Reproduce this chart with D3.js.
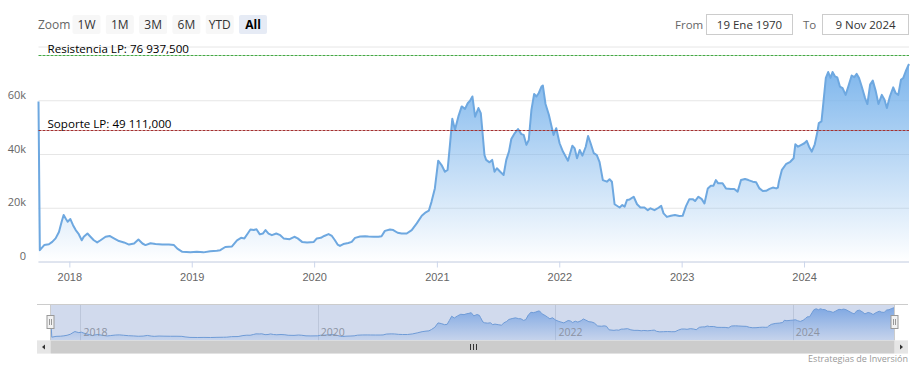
<!DOCTYPE html>
<html>
<head>
<meta charset="utf-8">
<script src="https://cdn.jsdelivr.net/npm/d3@7"></script>
<style>
  body { margin: 0; background: #fff; }
  svg { display: block; font-family: 'Open Sans', 'Noto Sans', sans-serif; }
</style>
</head>
<body>
<div class="chart"></div>
<script>
// price series (date, USD)
const dates = [
  '2017-10-01', '2017-10-05', '2017-10-18', '2017-11-01', '2017-11-11', '2017-11-21', '2017-12-01', '2017-12-09',
  '2017-12-15', '2017-12-21', '2017-12-27', '2018-01-04', '2018-01-12', '2018-01-20', '2018-01-28', '2018-02-07',
  '2018-02-13', '2018-02-24', '2018-03-05', '2018-03-15', '2018-03-25', '2018-04-04', '2018-04-19', '2018-05-01',
  '2018-05-14', '2018-05-29', '2018-06-13', '2018-06-28', '2018-07-13', '2018-07-26', '2018-08-07', '2018-08-16',
  '2018-08-31', '2018-09-15', '2018-10-05', '2018-10-25', '2018-11-09', '2018-11-19', '2018-12-04', '2018-12-28',
  '2019-01-16', '2019-02-05', '2019-02-25', '2019-03-17', '2019-03-27', '2019-04-11', '2019-05-01', '2019-05-16',
  '2019-05-28', '2019-06-07', '2019-06-17', '2019-06-25', '2019-07-05', '2019-07-13', '2019-07-23', '2019-08-01',
  '2019-08-09', '2019-08-18', '2019-08-28', '2019-09-10', '2019-09-22', '2019-10-02', '2019-10-20', '2019-11-03',
  '2019-11-13', '2019-11-26', '2019-12-11', '2019-12-31', '2020-01-09', '2020-01-21', '2020-01-31', '2020-02-13',
  '2020-02-23', '2020-03-03', '2020-03-11', '2020-03-18', '2020-03-28', '2020-04-12', '2020-04-22', '2020-05-02',
  '2020-05-17', '2020-06-01', '2020-06-11', '2020-06-26', '2020-07-11', '2020-07-20', '2020-07-30', '2020-08-14',
  '2020-08-24', '2020-09-06', '2020-09-18', '2020-10-03', '2020-10-18', '2020-11-02', '2020-11-17', '2020-11-29',
  '2020-12-08', '2020-12-16', '2020-12-26', '2021-01-05', '2021-01-15', '2021-01-25', '2021-02-02', '2021-02-09',
  '2021-02-16', '2021-02-24', '2021-03-06', '2021-03-16', '2021-03-26', '2021-04-03', '2021-04-10', '2021-04-17',
  '2021-04-25', '2021-05-05', '2021-05-12', '2021-05-16', '2021-05-23', '2021-05-28', '2021-06-07', '2021-06-15',
  '2021-06-22', '2021-06-29', '2021-07-09', '2021-07-19', '2021-07-27', '2021-08-04', '2021-08-11', '2021-08-21',
  '2021-08-31', '2021-09-10', '2021-09-17', '2021-09-25', '2021-10-02', '2021-10-10', '2021-10-18', '2021-10-25',
  '2021-11-01', '2021-11-09', '2021-11-13', '2021-11-21', '2021-12-01', '2021-12-08', '2021-12-15', '2021-12-23',
  '2022-01-02', '2022-01-12', '2022-01-27', '2022-02-09', '2022-02-16', '2022-02-23', '2022-03-03', '2022-03-11',
  '2022-03-21', '2022-03-28', '2022-04-04', '2022-04-14', '2022-04-23', '2022-05-01', '2022-05-11', '2022-05-23',
  '2022-05-31', '2022-06-07', '2022-06-15', '2022-06-30', '2022-07-08', '2022-07-15', '2022-07-22', '2022-07-30',
  '2022-08-11', '2022-08-21', '2022-08-31', '2022-09-12', '2022-09-22', '2022-09-30', '2022-10-12', '2022-10-24',
  '2022-11-01', '2022-11-08', '2022-11-18', '2022-11-30', '2022-12-12', '2022-12-25', '2023-01-04', '2023-01-14',
  '2023-01-24', '2023-02-03', '2023-02-10', '2023-02-20', '2023-03-02', '2023-03-10', '2023-03-20', '2023-03-29',
  '2023-04-06', '2023-04-13', '2023-04-20', '2023-05-03', '2023-05-13', '2023-05-28', '2023-06-07', '2023-06-17',
  '2023-06-27', '2023-07-09', '2023-07-19', '2023-08-01', '2023-08-11', '2023-08-21', '2023-08-31', '2023-09-10',
  '2023-09-20', '2023-09-30', '2023-10-10', '2023-10-15', '2023-10-18', '2023-10-27', '2023-11-08', '2023-11-21',
  '2023-12-01', '2023-12-06', '2023-12-14', '2023-12-24', '2024-01-02', '2024-01-09', '2024-01-16', '2024-01-24',
  '2024-02-02', '2024-02-09', '2024-02-14', '2024-02-22', '2024-02-27', '2024-03-06', '2024-03-13', '2024-03-20',
  '2024-03-26', '2024-04-02', '2024-04-09', '2024-04-17', '2024-04-25', '2024-05-04', '2024-05-12', '2024-05-22',
  '2024-05-30', '2024-06-06', '2024-06-13', '2024-06-21', '2024-07-01', '2024-07-08', '2024-07-16', '2024-07-24',
  '2024-08-02', '2024-08-10', '2024-08-20', '2024-08-28', '2024-09-04', '2024-09-13', '2024-09-23', '2024-09-30',
  '2024-10-08', '2024-10-16', '2024-10-23', '2024-10-30', '2024-11-09'
]
const prices = [
  59500, 4200, 6100, 6400, 7300, 8600, 11000, 14800,
  17300, 16000, 14800, 15800, 13500, 11700, 10400, 7900,
  9200, 10400, 9200, 7900, 7100, 7900, 9200, 9500,
  8600, 7600, 7100, 6300, 6700, 8200, 6700, 6100,
  6800, 6500, 6300, 6300, 6100, 4800, 3600, 3400,
  3600, 3400, 3800, 4000, 4200, 5400, 5600, 7900,
  8800, 8600, 10400, 11900, 11700, 12000, 10100, 10400,
  11700, 10400, 9800, 10400, 9800, 8600, 8300, 9200,
  8600, 7300, 7100, 7300, 8600, 8800, 9500, 10200,
  9500, 7900, 6300, 5800, 6500, 6900, 7300, 8800,
  9300, 9400, 9300, 9200, 9200, 9400, 11400, 11900,
  11700, 10700, 10400, 10400, 11700, 14200, 17000, 18300,
  18900, 22200, 27200, 37500, 35900, 33400, 34100, 43400,
  53100, 49000, 53900, 57700, 56800, 58900, 59800, 61400,
  53900, 57100, 55200, 49600, 39600, 37800, 36900, 37800,
  33400, 34700, 33400, 32200, 37800, 40900, 45600, 47700,
  49300, 47400, 47100, 43400, 45200, 56400, 62300, 61400,
  62700, 65100, 65500, 58600, 54600, 50800, 47100, 49600,
  44000, 40900, 37500, 43100, 42100, 38400, 41500, 39400,
  42700, 46700, 44200, 40300, 39600, 37100, 30300, 29700,
  30600, 29700, 21300, 20100, 21000, 20400, 22900, 23100,
  24100, 21300, 20100, 20100, 19100, 19800, 19100, 20000,
  20700, 17900, 16600, 17000, 17300, 16900, 17000, 20600,
  23200, 23200, 22500, 24100, 23200, 21600, 27200, 28200,
  28200, 30300, 29100, 29100, 27200, 27000, 27000, 26000,
  30300, 30700, 30300, 29700, 29500, 27200, 26200, 26300,
  27000, 27500, 27200, 27500, 29700, 34100, 36200, 37100,
  38400, 43600, 42700, 43400, 44000, 44900, 42700, 40900,
  43600, 47700, 51500, 52100, 58300, 68300, 70500, 68300,
  70500, 68900, 68500, 65100, 64500, 62000, 65100, 69200,
  68600, 69800, 68300, 65100, 60800, 58600, 65800, 67300,
  63300, 58600, 62000, 60200, 57100, 61400, 64800, 62700,
  62000, 67600, 68300, 70700, 73500
]
const yTicks = [0, 20000, 40000, 60000, 80000]
const navYears = [2018, 2020, 2022, 2024]
const zoomButtons = ['1W', '1M', '3M', '6M', 'YTD', 'All']
const resistance = 76937.5
const support = 49111
const fromText = '19 Ene 1970'
const toText = '9 Nov 2024'

const width = 922
const height = 373
let parseTime = d3.timeParse('%Y-%m-%d')
let data = dates.map((d, i) => ({ date: parseTime(d), value: prices[i] }))
let levelFormat = d3.formatLocale({ decimal: ',', thousands: ' ', grouping: [3], currency: ['', ''] }).format(',.3f')

const plot = { left: 38.5, right: 909, top: 46.5, bottom: 261.5 }
const nav = { left: 50.5, right: 894.5, top: 304.5, bottom: 340.5 }

const svg = d3
  .select('.chart')
  .append('svg')
  .attr('width', width)
  .attr('height', height)

const defs = svg.append('defs')
const grad = defs.append('linearGradient').attr('id', 'areaFill').attr('x1', 0).attr('y1', 0).attr('x2', 0).attr('y2', 1)
grad.append('stop').attr('offset', 0).attr('stop-color', '#7cb5ec').attr('stop-opacity', 1)
grad.append('stop').attr('offset', 1).attr('stop-color', '#7cb5ec').attr('stop-opacity', 0)

let x = d3.scaleTime().domain(d3.extent(data, (d) => d.date)).range([plot.left, plot.right])
let y = d3.scaleLinear().domain([0, 80000]).range([plot.bottom, plot.top])

// grid
svg
  .append('g')
  .attr('transform', `translate(${plot.left},0)`)
  .call(d3.axisLeft(y).tickValues(yTicks).tickSize(-(plot.right - plot.left)).tickFormat(''))
  .call((g) => g.select('.domain').remove())
  .call((g) => g.selectAll('line').attr('stroke', '#e6e6e6'))

// y labels (last one hidden like highstock)
svg
  .append('g')
  .selectAll('text')
  .data(yTicks.slice(0, -1))
  .enter()
  .append('text')
  .attr('x', 26)
  .attr('y', (d) => y(d) - 1.5)
  .attr('text-anchor', 'end')
  .style('font-size', '11px')
  .style('fill', '#666')
  .text((d) => (d === 0 ? '0' : d / 1000 + 'k'))

// area + line
let area = d3
  .area()
  .x((d) => x(d.date))
  .y0(plot.bottom)
  .y1((d) => y(d.value))
let line = d3
  .line()
  .x((d) => x(d.date))
  .y((d) => y(d.value))

svg.append('path').datum(data).attr('d', area).style('fill', 'url(#areaFill)')
svg
  .append('path')
  .datum(data)
  .attr('d', line)
  .style('fill', 'none')
  .style('stroke', '#6ea8e0')
  .style('stroke-width', 2)
  .style('stroke-linejoin', 'round')

// x axis
svg
  .append('g')
  .attr('transform', `translate(0,${plot.bottom})`)
  .call(d3.axisBottom(x).ticks(d3.timeYear.every(1)).tickFormat(d3.timeFormat('%Y')).tickSize(6).tickPadding(6))
  .call((g) => g.select('.domain').attr('stroke', '#ccd6eb').attr('d', `M${plot.left},0.5H${plot.right}`))
  .call((g) => g.selectAll('line').attr('stroke', '#ccd6eb'))
  .call((g) => g.selectAll('text').style('font-size', '11px').style('fill', '#666').style('font-family', null))

// resistance and support lines
let levels = [
  { value: resistance, name: 'Resistencia LP', color: '#45a845', dash: '3,1' },
  { value: support, name: 'Soporte LP', color: '#a33030', dash: '3,1' },
]
let levelG = svg.append('g').attr('class', 'levels')
levels.forEach((l) => {
  let yy = Math.round(y(l.value)) + 0.5
  levelG
    .append('path')
    .attr('d', `M${plot.left},${yy}H${plot.right}`)
    .attr('fill', 'none')
    .attr('stroke', l.color)
    .attr('stroke-width', 1)
    .attr('stroke-dasharray', l.dash)
  levelG
    .append('text')
    .attr('x', 47.5)
    .attr('y', yy - 2.5)
    .style('font-size', '11.6px')
    .style('fill', '#000')
    .text(`${l.name}: ${levelFormat(l.value)}`)
})

// range selector
svg
  .append('text')
  .attr('x', 38)
  .attr('y', 29)
  .style('font-size', '12px')
  .style('fill', '#666')
  .text('Zoom')

let btn = svg
  .append('g')
  .selectAll('g')
  .data(zoomButtons)
  .enter()
  .append('g')
  .attr('transform', (d, i) => `translate(${72.5 + i * 33.3},15)`)
btn
  .append('rect')
  .attr('width', 28)
  .attr('height', 19)
  .attr('rx', 2)
  .style('fill', (d) => (d === 'All' ? '#e6ebf5' : '#f7f7f7'))
btn
  .append('text')
  .attr('x', 14)
  .attr('y', 13.5)
  .attr('text-anchor', 'middle')
  .style('font-size', '12px')
  .style('font-weight', (d) => (d === 'All' ? 'bold' : 'normal'))
  .style('fill', (d) => (d === 'All' ? '#000' : '#333'))
  .text((d) => d)

let inputs = [
  { label: 'From', lx: 675, bx: 706.5, text: fromText },
  { label: 'To', lx: 803, bx: 822.5, text: toText },
]
inputs.forEach((inp) => {
  svg
    .append('text')
    .attr('x', inp.lx)
    .attr('y', 28.5)
    .style('font-size', '11.5px')
    .style('fill', '#666')
    .text(inp.label)
  svg
    .append('rect')
    .attr('x', inp.bx)
    .attr('y', 14.5)
    .attr('width', 86)
    .attr('height', 20)
    .style('fill', '#fff')
    .style('stroke', '#cccccc')
  svg
    .append('text')
    .attr('x', inp.bx + 43)
    .attr('y', 28.5)
    .attr('text-anchor', 'middle')
    .style('font-size', '11.5px')
    .style('fill', '#333')
    .text(inp.text)
})

// navigator
let nx = d3.scaleTime().domain(x.domain()).range([nav.left, nav.right])
let vmin = d3.min(prices)
let vmax = d3.max(prices.slice(1))
let pad = (vmax - vmin) * 0.1
let ny = d3.scaleLinear().domain([vmin - pad, vmax + pad]).range([nav.bottom, nav.top])

const navGrad = defs.append('linearGradient').attr('id', 'navFill').attr('x1', 0).attr('y1', 0).attr('x2', 0).attr('y2', 1)
navGrad.append('stop').attr('offset', 0).attr('stop-color', '#6a9be0').attr('stop-opacity', 0.8)
navGrad.append('stop').attr('offset', 1).attr('stop-color', '#6a9be0').attr('stop-opacity', 0.1)

defs
  .append('clipPath')
  .attr('id', 'navClip')
  .append('rect')
  .attr('x', nav.left)
  .attr('y', nav.top)
  .attr('width', nav.right - nav.left)
  .attr('height', nav.bottom - nav.top)

// mask for selected range (everything)
svg
  .append('rect')
  .attr('x', nav.left)
  .attr('y', nav.top)
  .attr('width', nav.right - nav.left)
  .attr('height', nav.bottom - nav.top)
  .style('fill', 'rgba(102,133,194,0.3)')

svg
  .append('g')
  .selectAll('line')
  .data(navYears)
  .enter()
  .append('line')
  .attr('x1', (d) => Math.round(nx(new Date(d, 0, 1))) + 0.5)
  .attr('x2', (d) => Math.round(nx(new Date(d, 0, 1))) + 0.5)
  .attr('y1', nav.top)
  .attr('y2', nav.bottom)
  .style('stroke', '#bcc6da')

let navG = svg.append('g').attr('clip-path', 'url(#navClip)')
navG
  .append('path')
  .datum(data)
  .attr(
    'd',
    d3
      .area()
      .x((d) => nx(d.date))
      .y0(nav.bottom)
      .y1((d) => ny(d.value))
  )
  .style('fill', 'url(#navFill)')
navG
  .append('path')
  .datum(data)
  .attr(
    'd',
    d3
      .line()
      .x((d) => nx(d.date))
      .y((d) => ny(d.value))
  )
  .style('fill', 'none')
  .style('stroke', '#6f9bd6')
  .style('stroke-width', 1)

svg
  .append('g')
  .selectAll('text')
  .data(navYears)
  .enter()
  .append('text')
  .attr('x', (d) => nx(new Date(d, 0, 1)) + 3)
  .attr('y', 336)
  .style('font-size', '10.5px')
  .style('fill', '#8c93a3')
  .text((d) => d)

// outline
svg
  .append('path')
  .attr('d', `M37,${nav.top}H908M${nav.left},${nav.top}V${nav.bottom}M${nav.right},${nav.top}V${nav.bottom}`)
  .style('fill', 'none')
  .style('stroke', '#cccccc')

// handles
;[nav.left, nav.right].forEach((hx) => {
  let h = svg.append('g').attr('transform', `translate(${Math.round(hx) - 4},315.5)`)
  h.append('rect').attr('width', 7).attr('height', 13).style('fill', '#f2f2f2').style('stroke', '#999')
  h.append('path').attr('d', 'M2.5,3.5V9.5M4.5,3.5V9.5').style('stroke', '#999')
})

// scrollbar
svg.append('rect').attr('x', 37).attr('y', 340.5).attr('width', 871).attr('height', 13).style('fill', '#f2f2f2')
svg
  .append('rect')
  .attr('x', nav.left)
  .attr('y', 340.5)
  .attr('width', nav.right - nav.left)
  .attr('height', 13)
  .style('fill', '#cccccc')
;[37, 895].forEach((bx, i) => {
  svg.append('rect').attr('x', bx).attr('y', 340.5).attr('width', 13).attr('height', 13).style('fill', '#e6e6e6')
  let cx = bx + 6.5
  let dir = i === 0 ? -1 : 1
  svg
    .append('path')
    .attr('d', `M${cx - dir * 1.5},344.5L${cx + dir * 1.5},347L${cx - dir * 1.5},349.5Z`)
    .style('fill', '#333')
})
let mid = Math.round((nav.left + nav.right) / 2)
svg
  .append('path')
  .attr('d', `M${mid - 2.5},344V350M${mid + 0.5},344V350M${mid + 3.5},344V350`)
  .style('stroke', '#333')

// credits
svg
  .append('text')
  .attr('x', 908)
  .attr('y', 362)
  .attr('text-anchor', 'end')
  .style('font-size', '9px')
  .style('fill', '#999')
  .text('Estrategias de Inversión')
</script>
</body>
</html>
